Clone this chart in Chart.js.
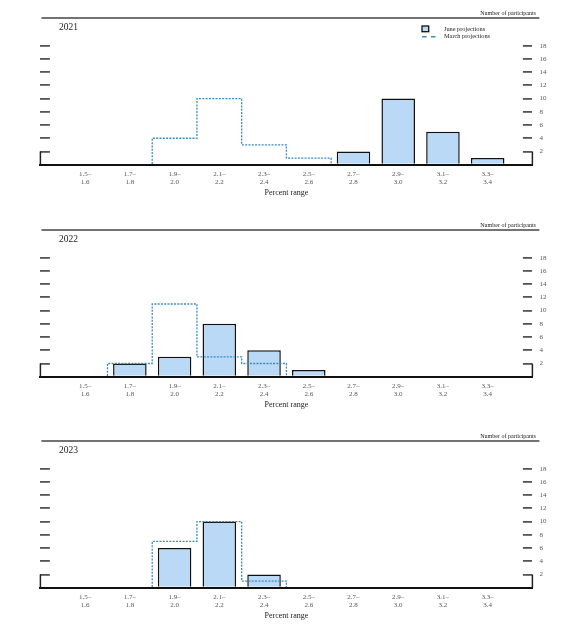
<!DOCTYPE html>
<html>
<head>
<meta charset="utf-8">
<script src="https://cdn.jsdelivr.net/npm/chart.js@4.4.1/dist/chart.umd.min.js"></script>
<style>
html, body { margin: 0; padding: 0; background: #fff; }
#wrap { position: relative; width: 577px; height: 629px; overflow: hidden; }
canvas { position: absolute; left: 0; }
</style>
</head>
<body>
<div id="wrap">
  <canvas id="c2021" width="577" height="212" style="top:0px"></canvas>
  <canvas id="c2022" width="577" height="212" style="top:211.7px"></canvas>
  <canvas id="c2023" width="577" height="212" style="top:423.4px"></canvas>
</div>
<script>
var binLabels = [
    ['1.5–', '1.6'], ['1.7–', '1.8'], ['1.9–', '2.0'], ['2.1–', '2.2'], ['2.3–', '2.4'],
    ['2.5–', '2.6'], ['2.7–', '2.8'], ['2.9–', '3.0'], ['3.1–', '3.2'], ['3.3–', '3.4']
];
var years = ['2021', '2022', '2023'];

// number of participants per bin
var june2021 = [0, 0, 0, 0, 0, 0, 2, 10, 5, 1];
var march2021 = [0, 0, 4, 10, 3, 1, 0, 0, 0, 0];
var june2022 = [0, 2, 3, 8, 4, 1, 0, 0, 0, 0];
var march2022 = [0, 2, 11, 3, 2, 0, 0, 0, 0, 0];
var june2023 = [0, 0, 6, 10, 2, 0, 0, 0, 0, 0];
var march2023 = [0, 0, 7, 10, 1, 0, 0, 0, 0, 0];

var juneByYear = [june2021, june2022, june2023];
var marchByYear = [march2021, march2022, march2023];

var serif = '"Liberation Serif", "Times New Roman", serif';
var barBlue = '#b9d9f6';
var marchBlue = '#3a8cc0';
var tickGrey = '#555';

Chart.defaults.font.family = serif;

function toPoints(values) {
    return values.map(function (v, i) { return {x: i, y: v}; });
}

// outline only where there is something, plus one empty bin on each side
function stepPoints(values) {
    var pts = [];
    values.forEach(function (v, i) {
        if (v > 0 || values[i - 1] > 0 || values[i + 1] > 0) {
            pts.push({x: i, y: v});
        }
    });
    return pts;
}

function tickColor(c) {
    return c.tick && c.tick.value === 0 ? 'rgba(0,0,0,0)' : tickGrey;
}

var panelDecor = {
    id: 'panelDecor',
    afterDraw: function (chart, args, opts) {
        var ctx = chart.ctx;
        var area = chart.chartArea;
        var y = chart.scales.y;
        ctx.save();

        // header rule and captions
        ctx.strokeStyle = '#444';
        ctx.lineWidth = 1.4;
        ctx.beginPath();
        ctx.moveTo(area.left + 1, 18);
        ctx.lineTo(area.right + 7, 18);
        ctx.stroke();

        ctx.fillStyle = '#222';
        ctx.textBaseline = 'middle';
        ctx.textAlign = 'right';
        ctx.font = '6px ' + serif;
        ctx.fillText('Number of participants', area.right + 3.5, 13);

        ctx.textAlign = 'left';
        ctx.font = '9.5px ' + serif;
        ctx.fillText(opts.year, area.left + 18.5, 27.5);

        // short side brackets between 0 and 2
        var y0 = y.getPixelForValue(0);
        var y2 = y.getPixelForValue(2);
        ctx.strokeStyle = '#222';
        ctx.lineWidth = 1.5;
        ctx.beginPath();
        ctx.moveTo(area.left, y0);
        ctx.lineTo(area.left, y2);
        ctx.moveTo(area.right, y0);
        ctx.lineTo(area.right, y2);
        ctx.stroke();

        if (opts.legend) {
            ctx.fillStyle = barBlue;
            ctx.fillRect(422, 26, 6.7, 5.7);
            ctx.strokeStyle = '#111';
            ctx.lineWidth = 1.3;
            ctx.strokeRect(422, 26, 6.7, 5.7);

            ctx.strokeStyle = marchBlue;
            ctx.lineWidth = 1.5;
            ctx.setLineDash([4.5, 4.5]);
            ctx.beginPath();
            ctx.moveTo(422, 36.7);
            ctx.lineTo(436, 36.7);
            ctx.stroke();
            ctx.setLineDash([]);

            ctx.fillStyle = '#222';
            ctx.font = '6.3px ' + serif;
            ctx.fillText('June projections', 444, 29);
            ctx.fillText('March projections', 444, 36.7);
        }
        ctx.restore();
    }
};

function drawPanel(k) {
    var ctx = document.getElementById('c' + years[k]);
    new Chart(ctx, {
        type: 'bar',
        data: {
            datasets: [{
                type: 'line',
                label: 'March projections',
                data: stepPoints(marchByYear[k]),
                stepped: 'middle',
                borderColor: marchBlue,
                borderWidth: 1.3,
                borderDash: [2, 1.3],
                pointRadius: 0,
                fill: false,
                order: 0
            }, {
                type: 'bar',
                label: 'June projections',
                data: toPoints(juneByYear[k]),
                backgroundColor: barBlue,
                borderColor: '#111',
                borderWidth: 1.5,
                categoryPercentage: 1,
                barPercentage: 0.75,
                order: 1
            }]
        },
        options: {
            responsive: false,
            animation: false,
            layout: {
                padding: {top: 45.7, left: 0, right: 0, bottom: 0},
                autoPadding: false
            },
            plugins: {
                legend: {display: false},
                tooltip: {enabled: false},
                panelDecor: {year: years[k], legend: k === 0}
            },
            scales: {
                x: {
                    type: 'linear',
                    min: -1,
                    max: 10,
                    offset: false,
                    grid: {display: false, drawTicks: false, offset: false},
                    border: {display: true, color: '#111', width: 2, z: 1},
                    ticks: {
                        stepSize: 1,
                        autoSkip: false,
                        maxRotation: 0,
                        minRotation: 0,
                        padding: 5,
                        color: tickGrey,
                        font: {size: 7, lineHeight: 1.2},
                        callback: function (v) { return binLabels[v] || ''; }
                    },
                    title: {
                        display: true,
                        text: 'Percent range',
                        color: '#222',
                        font: {size: 8, lineHeight: 1.2},
                        padding: {top: 0, bottom: 14}
                    },
                    afterFit: function (s) { s.height = 47.3; }
                },
                y: {
                    position: 'left',
                    min: 0,
                    max: 18,
                    grid: {drawOnChartArea: false, drawTicks: true, tickLength: -9.5, lineWidth: 1.8, color: tickColor},
                    border: {display: false},
                    ticks: {display: false, stepSize: 2},
                    afterFit: function (s) { s.width = 40.4; }
                },
                y2: {
                    position: 'right',
                    min: 0,
                    max: 18,
                    grid: {drawOnChartArea: false, drawTicks: true, tickLength: -9.5, lineWidth: 1.8, color: tickColor},
                    border: {display: false},
                    ticks: {
                        stepSize: 2,
                        padding: 16.5,
                        color: tickGrey,
                        font: {size: 7},
                        callback: function (v) { return v === 0 ? '' : v; }
                    },
                    afterFit: function (s) { s.width = 44.6; }
                }
            }
        },
        plugins: [panelDecor]
    });
}

years.forEach(function (y, k) { drawPanel(k); });
</script>
</body>
</html>
